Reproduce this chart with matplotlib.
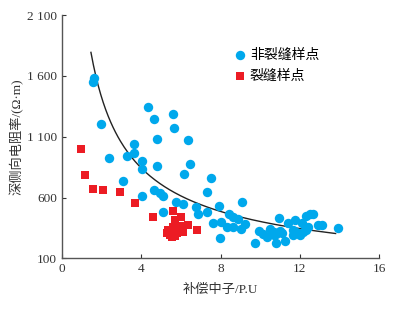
import numpy as np
import matplotlib
matplotlib.use("Agg")
import matplotlib.pyplot as plt

plt.rcParams['font.family'] = ['Liberation Serif', 'Noto Sans CJK SC', 'DejaVu Sans']

# 非裂缝样点 (blue)
blue_x = [1.63, 1.55, 1.95, 4.32, 4.62, 5.60, 5.63, 4.78, 6.37, 3.65, 3.65, 3.26, 2.37, 4.02,
          4.81, 4.02, 6.44, 6.15, 3.09, 4.62, 4.94, 5.09, 4.05, 5.75, 6.10, 5.08, 6.76, 6.88,
          7.51, 7.31, 7.93, 9.08, 7.33, 8.42, 8.65, 8.89, 9.23, 7.63, 8.02, 8.32, 8.65, 9.03,
          7.98, 9.71, 9.92, 10.15, 10.36, 10.49, 10.79, 10.77, 10.93, 10.99, 11.38, 11.76, 11.66,
          11.80, 11.26, 11.12, 12.00, 12.13, 12.30, 12.51, 12.66, 12.43, 12.30, 12.91, 13.09,
          13.91, 10.67, 10.69, 12.17, 11.66]
blue_y = [1585, 1552, 1204, 1341, 1245, 1284, 1169, 1081, 1070, 1042, 963, 941, 924, 900,
          859, 832, 875, 795, 735, 659, 639, 615, 612, 563, 550, 481, 522, 468,
          760, 645, 532, 560, 478, 464, 442, 423, 382, 393, 402, 357, 357, 343,
          267, 223, 322, 300, 278, 341, 226, 300, 435, 324, 388, 413, 337,
          316, 246, 306, 292, 388, 452, 464, 464, 357, 329, 374, 374,
          349, 316, 292, 316, 292]

# 裂缝样点 (red)
red_x = [0.97, 1.16, 1.54, 2.08, 2.91, 3.67, 4.57, 5.59, 5.72, 6.00, 6.37, 6.79,
         5.36, 5.61, 5.95, 5.45, 5.78, 6.12, 5.28, 5.53, 5.85, 5.70]
red_y = [1001, 787, 672, 661, 643, 557, 439, 489, 415, 440, 372, 333,
         333, 360, 366, 292, 306, 319, 306, 273, 341, 283]

# trend curve y = a * x**b + c
fit_a, fit_b, fit_c = 2450, -0.7, -86
fit_xmin, fit_xmax = 1.46, 13.8

xticks = [0, 4, 8, 12, 16]
yticks = [100, 600, 1100, 1600, 2100]
ytick_labels = ["100", "600", "1 100", "1 600", "2 100"]

fig = plt.figure(figsize=(4, 3.09), dpi=100)
ax = fig.add_axes([0.155, 0.164, 0.793, 0.787])

ax.scatter(blue_x, blue_y, s=46, color="#00a8ec", marker="o", linewidths=0, label="非裂缝样点", zorder=3)
ax.scatter(red_x, red_y, s=32, color="#ec1c24", marker="s", linewidths=0, label="裂缝样点", zorder=3)

xx = np.linspace(fit_xmin, fit_xmax, 200)
ax.plot(xx, fit_a * xx ** fit_b + fit_c, color="#222222", linewidth=1.0, zorder=2)

ax.set_xlim(0, 16)
ax.set_ylim(100, 2100)
ax.set_xticks(xticks)
ax.set_yticks(yticks)
ax.set_yticklabels(ytick_labels)
ax.tick_params(direction="in", length=3, width=0.8, labelsize=9.5, colors="#333333")
ax.spines["top"].set_visible(False)
ax.spines["right"].set_visible(False)
for s in ["left", "bottom"]:
    ax.spines[s].set_color("#555555")
    ax.spines[s].set_linewidth(1.0)

ax.set_xlabel("补偿中子/P.U", fontsize=9.5, color="#333333", labelpad=6)
ax.set_ylabel("深侧向电阻率/(Ω·m)", fontsize=9.5, color="#333333", labelpad=2)

ax.legend(loc="upper left", bbox_to_anchor=(0.5, 0.915), frameon=False, fontsize=10,
          handletextpad=0.2, labelspacing=0.6, markerscale=1.0, handlelength=1.0)

fig.savefig("out.png", dpi=100)
